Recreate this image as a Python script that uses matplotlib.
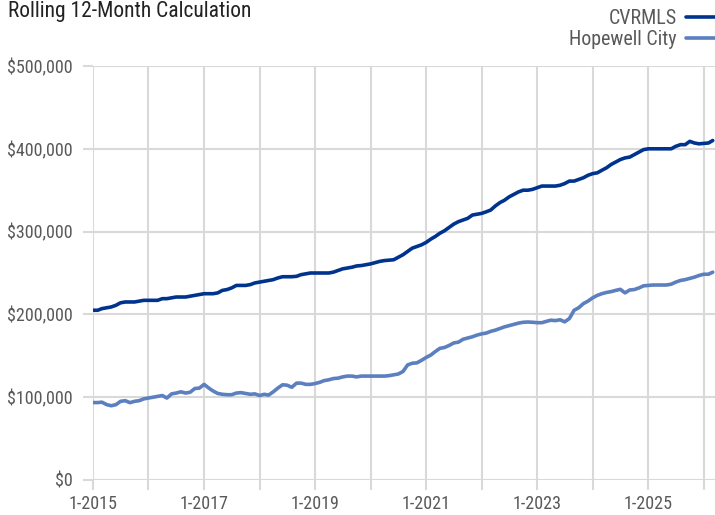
import numpy as np
import pandas as pd
import matplotlib
matplotlib.use("Agg")
import matplotlib.pyplot as plt
from matplotlib.ticker import FuncFormatter

plt.rcParams['font.family'] = ['Roboto Condensed', 'Liberation Sans Narrow', 'Archivo Narrow',
                               'Barlow Semi Condensed', 'DejaVu Sans']

# monthly values, Jan 2015 .. Mar 2026 (thousands of dollars)
cvrmls = [
    205, 205, 207, 208, 209, 211, 214, 215, 215, 215, 216, 217,          # 2015
    217, 217, 217, 219, 219, 220, 221, 221, 221, 222, 223, 224,          # 2016
    225, 225, 225, 226, 229, 230, 232, 235, 235, 235, 236, 238,          # 2017
    239, 240, 241, 242, 244, 245.5, 245.5, 245.5, 246, 248, 249, 250,    # 2018
    250, 250, 250, 250, 251, 253, 255, 256, 257, 258.5, 259, 260,        # 2019
    261, 262.5, 264, 265, 265.5, 266, 269, 272, 276, 280, 282, 284,      # 2020
    287, 291, 294, 298, 301, 305, 309, 312, 314, 316, 320, 321,          # 2021
    322, 324, 326, 331, 335, 338, 342, 345, 348, 350, 350, 351,          # 2022
    353, 355, 355, 355, 355, 356, 358, 361, 361, 363, 365, 368,          # 2023
    370, 371, 374, 377, 381, 384, 387, 389, 390, 393, 396, 399,          # 2024
    400, 400, 400, 400, 400, 400, 403, 405, 405, 409, 407, 406,          # 2025
    406.5, 407, 410,                                                     # 2026
]
hopewell = [
    93.5, 93.5, 94, 91, 89.7, 91, 95, 95.8, 93.4, 95, 95.8, 98,
    99, 100, 101, 102, 99, 104, 105, 106.5, 105, 106, 110.5, 111,
    115.5, 111, 107.5, 104.5, 103.5, 103, 103, 105, 105.5, 104.5, 103.5, 104,
    102, 103.5, 102.5, 106.5, 111, 115, 114.5, 112, 117, 117, 115.5, 115.5,
    116.5, 118, 120, 121, 122.5, 123, 124.5, 125.5, 125.5, 124.5, 125.5, 125.5,
    125.5, 125.5, 125.5, 125.5, 126, 127, 128, 131, 139, 141, 141.5, 144.5,
    148, 151, 155, 159, 160, 162.5, 165.5, 166.5, 170, 171.5, 173, 175,
    176.5, 177.5, 179.5, 181, 183, 185, 186.5, 188, 189.5, 190.5, 190.8, 190.5,
    190, 190, 191.5, 193, 192.5, 193.5, 191, 195, 205, 208, 213, 216,
    220, 223, 225, 226.5, 227.5, 229, 230.3, 226, 229.5, 230, 232, 234.5,
    235, 235.5, 235.5, 235.5, 235.5, 236.5, 239, 241, 242, 243.5, 245, 247,
    248.5, 248.5, 251,
]
months = pd.date_range('2015-01-01', periods=len(cvrmls), freq='MS')
years = list(range(2015, 2027))
year_labels = [f'1-{y}' if y % 2 == 1 else '' for y in years]

fig = plt.figure(figsize=(7.15, 5.15), dpi=100)
ax = fig.add_axes([93 / 715, 35 / 515, 622 / 715, 414 / 515])

grid_c = '#d9d9d9'
txt_c = '#595959'

ax.plot(months, np.array(cvrmls) * 1000, color='#00338d', lw=2.6,
        label='CVRMLS', solid_capstyle='round', zorder=3)
ax.plot(months, np.array(hopewell) * 1000, color='#5b7fbf', lw=2.6,
        label='Hopewell City', solid_capstyle='round', zorder=3)

ax.set_ylim(0, 500000)
ax.set_xlim(pd.Timestamp('2015-01-01'), pd.Timestamp('2026-03-16'))
ax.set_yticks(np.arange(0, 500001, 100000))
ax.yaxis.set_major_formatter(FuncFormatter(lambda v, p: f'${v:,.0f}'))
ax.set_xticks([pd.Timestamp(f'{y}-01-01') for y in years])
ax.set_xticklabels(year_labels)

ax.grid(True, color=grid_c, lw=1.5)
ax.set_axisbelow(True)
for s in ax.spines.values():
    s.set_visible(False)
ax.tick_params(axis='both', colors=grid_c, width=1.5, length=7,
               labelcolor=txt_c, labelsize=13)
ax.tick_params(axis='x', pad=4)
ax.tick_params(axis='y', pad=7.5)

fig.text(8 / 715, 1 - 12 / 515, 'Rolling 12-Month Calculation',
         fontsize=15.5, color='#222222', va='center', ha='left')

fig.legend(loc='upper right', bbox_to_anchor=(1.0, 1 - 9 / 515), frameon=False,
           markerfirst=False, fontsize=14.4, labelcolor=txt_c,
           handlelength=1.45, handletextpad=0.45, labelspacing=0.12,
           borderaxespad=0, borderpad=0)

fig.savefig('out.png', dpi=100)
